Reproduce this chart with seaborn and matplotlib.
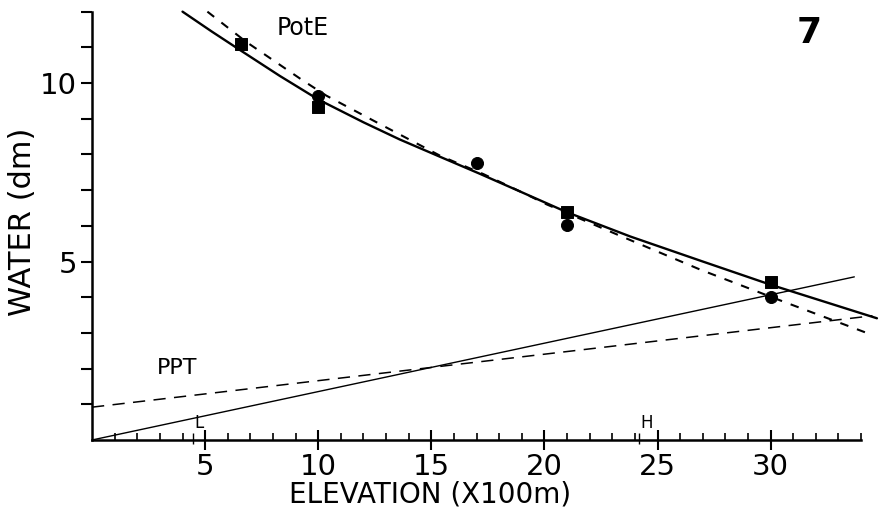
import matplotlib
matplotlib.use("Agg")
import matplotlib.pyplot as plt
import seaborn as sns

# PotE, solid curve
pote_solid_x = [4.0, 5.3, 6.6, 8.3, 10.0, 12.0, 13.6, 15.4, 17.1, 19.0, 21.0, 23.8, 27.0, 30.0, 34.7]
pote_solid_y = [12.0, 11.44, 10.90, 10.20, 9.54, 8.90, 8.42, 7.93, 7.47, 6.94, 6.38, 5.70, 5.0, 4.35, 3.41]

# PotE, dashed curve
pote_dash_x = [5.1, 6.8, 9.3, 10.35, 12.7, 15.4, 17.3, 19.2, 20.1, 23.2, 26.9, 30.55, 34.5]
pote_dash_y = [12.0, 11.16, 10.08, 9.65, 8.86, 7.96, 7.45, 6.88, 6.60, 5.76, 4.77, 3.88, 2.94]

# PPT lines
ppt_solid_x = [0.0, 33.7]
ppt_solid_y = [0.0, 4.57]
ppt_dash_x = [0.0, 34.5]
ppt_dash_y = [0.92, 3.48]

# station points
square_x = [6.6, 10.0, 21.0, 30.0]
square_y = [11.1, 9.33, 6.40, 4.43]
circle_x = [10.0, 17.0, 21.0, 30.0]
circle_y = [9.65, 7.76, 6.01, 4.02]

# L / H marks on the elevation axis
mark_x = [4.48, 24.17]
mark_labels = ["L", "H"]

sns.set_style("ticks")
plt.rcParams["font.family"] = ["DejaVu Sans"]
for key in ["text.color", "axes.labelcolor", "xtick.color", "ytick.color", "axes.edgecolor"]:
    plt.rcParams[key] = "black"

fig = plt.figure(figsize=(8.85, 5.13), dpi=100)
ax = fig.add_axes([0.104, 0.1423, 0.869, 0.835])

sns.lineplot(x=pote_solid_x, y=pote_solid_y, ax=ax, color="black", lw=1.7, clip_on=False)
sns.lineplot(x=pote_dash_x, y=pote_dash_y, ax=ax, color="black", lw=1.5,
             linestyle=(0, (4.1, 4.4)), clip_on=False)
sns.lineplot(x=ppt_solid_x, y=ppt_solid_y, ax=ax, color="black", lw=1.0, clip_on=False)
sns.lineplot(x=ppt_dash_x, y=ppt_dash_y, ax=ax, color="black", lw=1.1,
             linestyle=(0, (8.0, 5.5)), clip_on=False)

sns.scatterplot(x=square_x, y=square_y, ax=ax, marker="s", s=75, color="black",
                edgecolor="black", zorder=5)
sns.scatterplot(x=circle_x, y=circle_y, ax=ax, marker="o", s=75, color="black",
                edgecolor="black", zorder=5)

ax.vlines(mark_x, -0.12, 0.2, color="black", lw=1.0, clip_on=False)
for mx, lab in zip(mark_x, mark_labels):
    ax.text(mx + 0.05, 0.22, lab, fontsize=12, ha="left", va="bottom")

ax.text(9.3, 11.53, "PotE", fontsize=17, ha="center", va="center")
ax.text(3.78, 2.01, "PPT", fontsize=16, ha="center", va="center")
fig.text(0.914, 0.936, "7", fontsize=26, fontweight="bold", ha="center", va="center")

ax.set_xlim(0, 34)
ax.set_ylim(0, 12)
ax.set_xticks([5, 10, 15, 20, 25, 30])
ax.set_xticks(range(1, 35), minor=True)
ax.set_yticks([5, 10])
ax.set_yticks([1, 2, 3, 4, 6, 7, 8, 9, 11, 12], minor=True)

ax.tick_params(axis="x", which="major", direction="inout", length=15, width=1.5,
               labelsize=21, pad=2)
ax.tick_params(axis="x", which="minor", direction="in", length=5, width=1.2)
ax.tick_params(axis="y", which="both", direction="out", length=8, width=1.5,
               labelsize=21, pad=3)

sns.despine(ax=ax)
for side in ["left", "bottom"]:
    ax.spines[side].set_linewidth(1.8)

ax.set_xlabel("ELEVATION (X100m)", fontsize=20)
ax.xaxis.set_label_coords(0.44, -0.094)
ax.set_ylabel("WATER (dm)", fontsize=22)
ax.yaxis.set_label_coords(-0.0715, 0.51)

fig.savefig("out.png", dpi=100, facecolor="white")
